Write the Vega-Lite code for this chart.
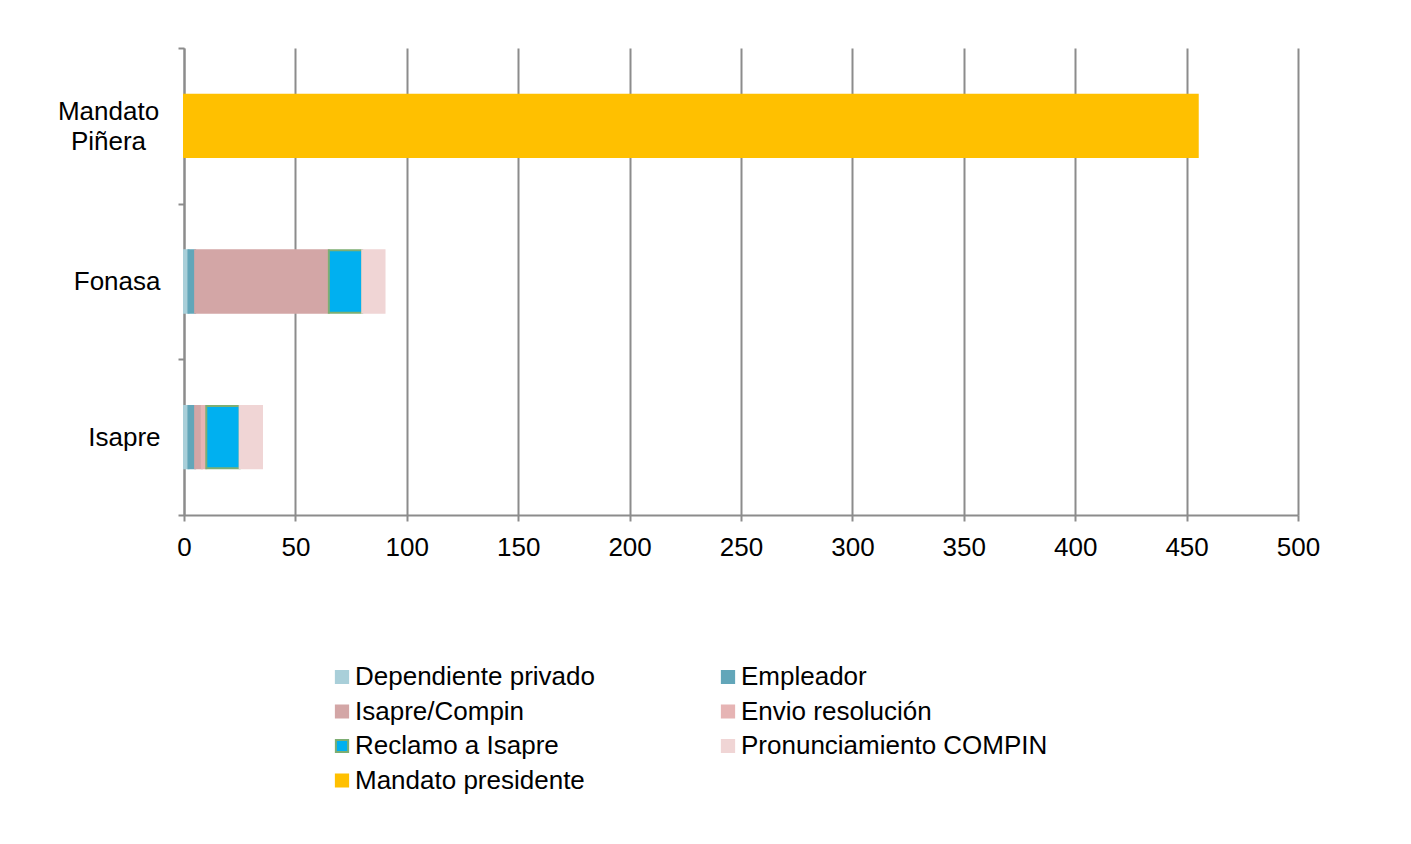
{
  "$schema": "https://vega.github.io/schema/vega-lite/v6.json",
  "width": 1114,
  "height": 467,
  "autosize": {"type": "none"},
  "padding": {"left": 184, "top": 48, "right": 113, "bottom": 329},
  "background": "white",
  "config": {
    "font": "Liberation Sans",
    "view": {"stroke": null},
    "axis": {"labelFont": "Liberation Sans", "labelColor": "black", "labelFontSize": 26, "domainColor": "#8C8C8C", "tickColor": "#8C8C8C", "gridColor": "#8C8C8C", "domainWidth": 2, "tickWidth": 2, "gridWidth": 2, "gridOpacity": 1, "tickSize": 6}
  },
  "data": {
    "values": [
      {"cat": "Mandato Piñera", "serie": "Mandato presidente", "orden": 7, "dias": 455},
      {"cat": "Fonasa", "serie": "Dependiente privado", "orden": 1, "dias": 2},
      {"cat": "Fonasa", "serie": "Empleador", "orden": 2, "dias": 3},
      {"cat": "Fonasa", "serie": "Isapre/Compin", "orden": 3, "dias": 60},
      {"cat": "Fonasa", "serie": "Envio resolución", "orden": 4, "dias": 0},
      {"cat": "Fonasa", "serie": "Reclamo a Isapre", "orden": 5, "dias": 15},
      {"cat": "Fonasa", "serie": "Pronunciamiento COMPIN", "orden": 6, "dias": 10},
      {"cat": "Isapre", "serie": "Dependiente privado", "orden": 1, "dias": 2},
      {"cat": "Isapre", "serie": "Empleador", "orden": 2, "dias": 3},
      {"cat": "Isapre", "serie": "Isapre/Compin", "orden": 3, "dias": 3},
      {"cat": "Isapre", "serie": "Envio resolución", "orden": 4, "dias": 2},
      {"cat": "Isapre", "serie": "Reclamo a Isapre", "orden": 5, "dias": 15},
      {"cat": "Isapre", "serie": "Pronunciamiento COMPIN", "orden": 6, "dias": 10}
    ]
  },
  "mark": {"type": "bar", "strokeWidth": 2, "height": {"band": 0.4}},
  "encoding": {
    "y": {
      "field": "cat", "type": "nominal",
      "sort": ["Mandato Piñera", "Fonasa", "Isapre"],
      "scale": {"paddingInner": 0, "paddingOuter": 0},
      "axis": {"title": null, "tickBand": "extent", "labelLineHeight": 30,
               "labelAlign": {"condition": {"test": "datum.value == 'Mandato Piñera'", "value": "center"}, "value": "right"},
               "labelPadding": {"condition": {"test": "datum.value == 'Mandato Piñera'", "value": 70}, "value": 18},
               "labelOffset": {"condition": {"test": "datum.value == 'Mandato Piñera'", "value": -14}, "value": 0},
               "labelExpr": "datum.label == 'Mandato Piñera' ? ['Mandato', 'Piñera'] : datum.label"}
    },
    "x": {
      "field": "dias", "type": "quantitative", "stack": "zero",
      "scale": {"domain": [0, 500], "nice": false},
      "axis": {"title": null, "values": [0, 50, 100, 150, 200, 250, 300, 350, 400, 450, 500], "grid": true, "labelPadding": 13, "labelFlush": false, "domain": true}
    },
    "order": {"field": "orden", "type": "quantitative"},
    "color": {
      "field": "serie", "type": "nominal",
      "scale": {
        "domain": ["Dependiente privado", "Isapre/Compin", "Reclamo a Isapre", "Mandato presidente", "Empleador", "Envio resolución", "Pronunciamiento COMPIN"],
        "range": ["#A9CFD9", "#D3A6A6", "#00B0F0", "#FFC000", "#62A6B9", "#E6B4B4", "#F0D5D5"]
      },
      "legend": {
        "title": null, "orient": "none", "legendX": 145, "legendY": 616, "columns": 2,
        "columnPadding": 120, "rowPadding": 8.5, "symbolType": "square", "symbolSize": 150,
        "symbolStrokeWidth": 2, "labelFontSize": 26, "labelFont": "Liberation Sans", "labelColor": "black", "labelOffset": 0, "labelLimit": 500
      }
    },
    "stroke": {
      "field": "serie", "type": "nominal",
      "scale": {
        "domain": ["Dependiente privado", "Isapre/Compin", "Reclamo a Isapre", "Mandato presidente", "Empleador", "Envio resolución", "Pronunciamiento COMPIN"],
        "range": ["#A9CFD9", "#D3A6A6", "#7DAE73", "#FFC000", "#62A6B9", "#E6B4B4", "#F0D5D5"]
      },
      "legend": {
        "title": null, "orient": "none", "legendX": 145, "legendY": 616, "columns": 2,
        "columnPadding": 120, "rowPadding": 8.5, "symbolType": "square", "symbolSize": 150,
        "symbolStrokeWidth": 2, "labelFontSize": 26, "labelFont": "Liberation Sans", "labelColor": "black", "labelOffset": 0, "labelLimit": 500
      }
    }
  }
}
